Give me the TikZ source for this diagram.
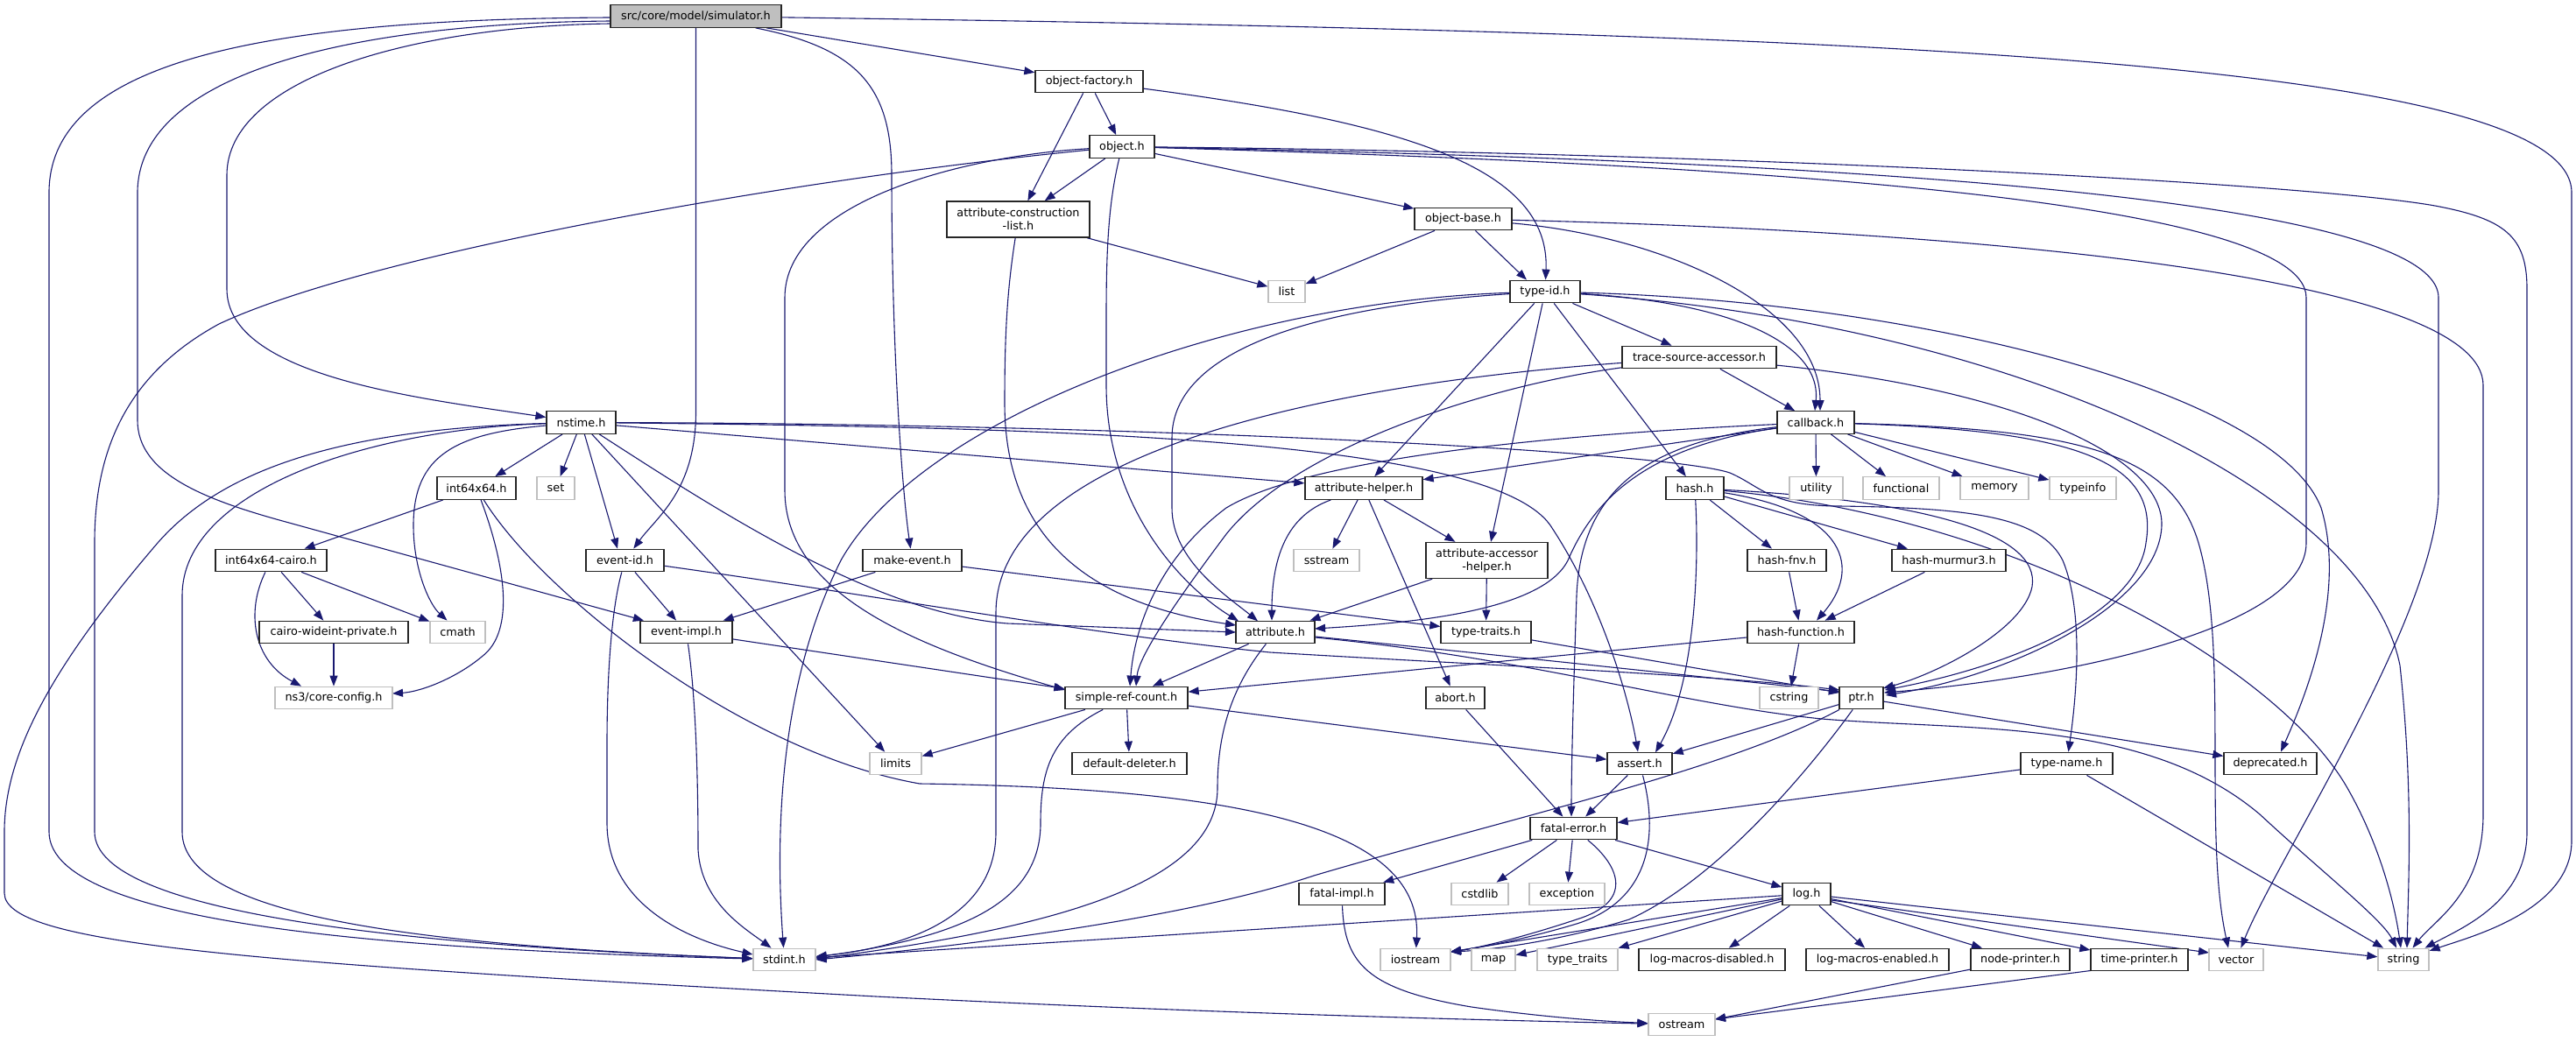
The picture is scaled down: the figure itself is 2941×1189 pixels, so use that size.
\documentclass[tikz,border=0pt]{standalone}
\usepackage{fontspec}
\setmainfont{DejaVu Sans}
\usetikzlibrary{arrows.meta}
\pgfdeclarelayer{bg}
\pgfsetlayers{bg,main}
\definecolor{mblue}{HTML}{191970}
\definecolor{gsf}{HTML}{BFBFBF}
\newcommand{\nodefnt}{\fontsize{12.8}{15}\selectfont}
\tikzset{
  nd/.style={draw=black!85, line width=1.3pt, fill=white, minimum height=25.5pt, inner sep=0pt, font=\nodefnt, text=black},
  ext/.style={nd, draw=gsf},
  rootnd/.style={nd, fill=gsf},
  edg/.style={draw=mblue, line width=1.1pt, -{Triangle[length=12pt,width=9pt]}}
}
\begin{document}
\begin{tikzpicture}[x=1pt,y=-1pt]
\useasboundingbox (0,0) rectangle (2941,1189);
% nodes
\node[rootnd, minimum width=195pt] (sim) at (794.5,18.5) {src/core/model/simulator.h};
\node[nd, minimum width=123pt] (objfac) at (1243.5,93) {object-factory.h};
\node[nd, minimum width=74pt] (object) at (1281,167.5) {object.h};
\node[nd, minimum width=163pt, minimum height=41pt, align=center] (attrcl) at (1162.5,250.5) {attribute-construction\\-list.h};
\node[nd, minimum width=111pt] (objbase) at (1670.5,250) {object-base.h};
\node[ext, minimum width=42pt] (list) at (1469,333) {list};
\node[nd, minimum width=80pt] (typeid) at (1764,333) {type-id.h};
\node[nd, minimum width=176pt] (tsa) at (1940,408) {trace-source-accessor.h};
\node[nd, minimum width=79pt] (nstime) at (663.5,482.5) {nstime.h};
\node[nd, minimum width=88pt] (callback) at (2073,482.5) {callback.h};
\node[nd, minimum width=90pt] (int64) at (544,557.5) {int64x64.h};
\node[ext, minimum width=43pt] (set) at (634.5,557.5) {set};
\node[nd, minimum width=134pt] (attrhelper) at (1557,557.5) {attribute-helper.h};
\node[nd, minimum width=66pt] (hash) at (1935,557.5) {hash.h};
\node[ext, minimum width=61pt] (utility) at (2073.5,557.5) {utility};
\node[ext, minimum width=87pt] (functional) at (2170.5,557.5) {functional};
\node[ext, minimum width=78pt] (memory) at (2277,557.5) {memory};
\node[ext, minimum width=76pt] (typeinfo) at (2378,557.5) {typeinfo};
\node[nd, minimum width=127pt] (cairo64) at (309.5,640) {int64x64-cairo.h};
\node[nd, minimum width=89pt] (eventid) at (713.5,640) {event-id.h};
\node[nd, minimum width=113pt] (makeevent) at (1041.5,640) {make-event.h};
\node[ext, minimum width=75pt] (sstream) at (1514.5,640) {sstream};
\node[nd, minimum width=139pt, minimum height=41pt, align=center] (aah) at (1697.5,640) {attribute-accessor\\-helper.h};
\node[nd, minimum width=90pt] (hashfnv) at (2040,640) {hash-fnv.h};
\node[nd, minimum width=130pt] (murmur) at (2225,640) {hash-murmur3.h};
\node[nd, minimum width=170pt] (cairowide) at (381,722) {cairo-wideint-private.h};
\node[ext, minimum width=63pt] (cmath) at (522.5,722) {cmath};
\node[nd, minimum width=105pt] (eventimpl) at (783.5,722) {event-impl.h};
\node[nd, minimum width=90pt] (attribute) at (1456,722) {attribute.h};
\node[nd, minimum width=103pt] (typetraits) at (1696.5,722) {type-traits.h};
\node[nd, minimum width=122pt] (hashfunc) at (2056,722) {hash-function.h};
\node[ext, minimum width=134pt] (coreconfig) at (381,797) {ns3/core-config.h};
\node[nd, minimum width=140pt] (src) at (1286,797) {simple-ref-count.h};
\node[nd, minimum width=67pt] (abort) at (1661.5,797) {abort.h};
\node[ext, minimum width=67pt] (cstring) at (2042.5,797) {cstring};
\node[nd, minimum width=50pt] (ptr) at (2125,797) {ptr.h};
\node[ext, minimum width=59pt] (limits) at (1022.5,872) {limits};
\node[nd, minimum width=131pt] (deleter) at (1289.5,872) {default-deleter.h};
\node[nd, minimum width=74pt] (assert) at (1872,872) {assert.h};
\node[nd, minimum width=105pt] (typename) at (2359.5,872) {type-name.h};
\node[nd, minimum width=106pt] (deprecated) at (2592,872) {deprecated.h};
\node[nd, minimum width=99pt] (fatalerror) at (1796.5,946) {fatal-error.h};
\node[nd, minimum width=98pt] (fatalimpl) at (1532,1021) {fatal-impl.h};
\node[ext, minimum width=65pt] (cstdlib) at (1689.5,1021) {cstdlib};
\node[ext, minimum width=86pt] (exception) at (1789,1021) {exception};
\node[nd, minimum width=55pt] (log) at (2062.5,1021) {log.h};
\node[ext, minimum width=71pt] (stdint) at (895.5,1096) {stdint.h};
\node[ext, minimum width=80pt] (iostream) at (1616,1096) {iostream};
\node[ext, minimum width=50pt] (map) at (1705,1096) {map};
\node[ext, minimum width=92pt] (ttraits) at (1801,1096) {type\_traits};
\node[nd, minimum width=167pt] (lmd) at (1954.5,1096) {log-macros-disabled.h};
\node[nd, minimum width=163pt] (lme) at (2143.5,1096) {log-macros-enabled.h};
\node[nd, minimum width=113pt] (nodeprinter) at (2306.5,1096) {node-printer.h};
\node[nd, minimum width=111pt] (timeprinter) at (2442.5,1096) {time-printer.h};
\node[ext, minimum width=62pt] (vector) at (2553,1096) {vector};
\node[ext, minimum width=58pt] (string) at (2744,1096) {string};
\node[ext, minimum width=76pt] (ostream) at (1920,1170) {ostream};

\begin{pgfonlayer}{bg}
\fill[white] (0,0) rectangle (2941,1189);
% simulator.h
\draw[edg] (sim) -- (objfac);
\draw[edg] (sim) .. controls (980,55) and (1018,100) .. (1018,200) .. controls (1018,400) and (1030,560) .. (makeevent);
\draw[edg] (sim) -- (794.5,470) .. controls (794.5,560) and (750,590) .. (eventid);
\draw[edg] ([yshift=-8.5pt]sim.west) .. controls (470,30) and (259,90) .. (259,200) -- (259,330) .. controls (259,430) and (480,455) .. (nstime);
\draw[edg] ([yshift=-5.5pt]sim.west) .. controls (380,27) and (157,90) .. (157,220) -- (157,480) .. controls (157,540) and (230,570) .. (330,597) -- (eventimpl);
\draw[edg] ([yshift=-1.5pt]sim.west) .. controls (300,22) and (56,70) .. (56,220) -- (56,950) .. controls (56,1060) and (480,1085) .. (stdint);
\draw[edg] (sim) .. controls (2200,38) and (2936,75) .. (2936,220) -- (2936,960) .. controls (2936,1040) and (2820,1070) .. (string);
% object-factory.h
\draw[edg] (objfac) -- (object);
\draw[edg] (objfac) -- (attrcl);
\draw[edg] (objfac) .. controls (1600,140) and (1770,190) .. (typeid);
% object.h
\draw[edg] (object) -- (attrcl);
\draw[edg] (object) -- (objbase);
\draw[edg] (object) .. controls (1266,230) and (1263,280) .. (1263,360) -- (1263,440) .. controls (1263,580) and (1350,670) .. ([shift={(-42,-12.75)}]attribute.center);
\draw[edg] (object) .. controls (1100,178) and (896,230) .. (896,340) -- (896,560) .. controls (896,680) and (1050,740) .. ([shift={(-70,-9)}]src.center);
\draw[edg] (object) .. controls (900,205) and (420,290) .. (250,370) .. controls (140,430) and (108,520) .. (108,620) -- (108,950) .. controls (108,1045) and (480,1080) .. (stdint);
\draw[edg] (object) .. controls (1900,185) and (2633,220) .. (2633,340) -- (2633,620) .. controls (2633,720) and (2350,775) .. ([shift={(26,-6)}]ptr.center);
\draw[edg] (object) .. controls (1900,180) and (2784,210) .. (2784,340) -- (2784,560) .. controls (2784,700) and (2600,980) .. (vector);
\draw[edg] (object) .. controls (2000,175) and (2640,210) .. (2780,235) .. controls (2860,250) and (2885,270) .. (2885,330) -- (2885,950) .. controls (2885,1030) and (2810,1060) .. (string);
% attribute-construction-list.h
\draw[edg] (attrcl) -- (list);
\draw[edg] (attrcl) .. controls (1150,330) and (1147,380) .. (1147,460) .. controls (1147,620) and (1250,690) .. ([shift={(-45,-8)}]attribute.center);
% object-base.h
\draw[edg] (objbase) -- (list);
\draw[edg] (objbase) -- ([xshift=-21pt]typeid.north);
\draw[edg] (objbase) .. controls (1900,270) and (2078,350) .. ([xshift=5pt]callback.north);
\draw[edg] (objbase) .. controls (2300,265) and (2835,320) .. (2835,440) -- (2835,930) .. controls (2835,1020) and (2780,1050) .. (string);
% type-id.h
\draw[edg] (typeid) -- (tsa);
\draw[edg] (typeid) .. controls (1970,345) and (2080,390) .. ([xshift=-1pt]callback.north);
\draw[edg] (typeid) -- (attrhelper);
\draw[edg] (typeid) -- (aah);
\draw[edg] (typeid) .. controls (1500,350) and (1338,400) .. (1338,500) -- (1338,580) .. controls (1338,640) and (1400,680) .. ([shift={(-20,-12.75)}]attribute.center);
\draw[edg] (typeid) -- (hash);
\draw[edg] (typeid) .. controls (2200,345) and (2600,450) .. (2650,580) .. controls (2680,680) and (2630,800) .. ([xshift=12pt]deprecated.north);
\draw[edg] (typeid) .. controls (2300,370) and (2700,560) .. (2740,760) .. controls (2755,900) and (2750,1000) .. ([xshift=4pt]string.north);
\draw[edg] (typeid) .. controls (1400,345) and (1050,480) .. (960,640) .. controls (890,780) and (885,950) .. (stdint);
% trace-source-accessor.h
\draw[edg] (tsa) -- (callback);
\draw[edg] (tsa) .. controls (2300,445) and (2470,520) .. (2468,600) .. controls (2465,690) and (2300,770) .. ([shift={(28,-3)}]ptr.center);
\draw[edg] (tsa) .. controls (1700,440) and (1480,510) .. (1400,610) .. controls (1340,690) and (1300,750) .. ([xshift=11pt]src.north);
\draw[edg] (tsa) .. controls (1500,440) and (1137,520) .. (1137,700) -- (1137,950) .. controls (1137,1040) and (1050,1080) .. (stdint);
% nstime.h
\draw[edg] (nstime) -- (int64);
\draw[edg] (nstime) -- (set);
\draw[edg] (nstime) -- ([xshift=-8.5pt]eventid.north);
\draw[edg] (nstime) -- (limits);
\draw[edg] (nstime) .. controls (830,590) and (1000,700) .. (1150,712) -- ([shift={(-45,0)}]attribute.center);
\draw[edg] (nstime) -- (attrhelper);
\draw[edg] (nstime) .. controls (1200,488) and (1700,500) .. (1770,600) .. controls (1830,690) and (1860,800) .. ([xshift=-2pt]assert.north);
\draw[edg] (nstime) .. controls (1300,484) and (1900,515) .. (1975,540) .. controls (2010,555) and (2020,578) .. (2100,578) .. controls (2250,580) and (2330,590) .. (2355,640) .. controls (2380,700) and (2370,800) .. (typename);
\draw[edg] (nstime) .. controls (520,495) and (472,520) .. (472,600) .. controls (472,650) and (490,690) .. ([xshift=-12pt]cmath.north);
\draw[edg] (nstime) .. controls (420,490) and (208,560) .. (208,680) -- (208,950) .. controls (208,1050) and (500,1080) .. (stdint);
\draw[edg] (nstime) .. controls (380,490) and (250,540) .. (180,620) .. controls (60,760) and (5,860) .. (5,950) -- (5,1020) .. controls (5,1080) and (300,1100) .. (1000,1138) .. controls (1400,1158) and (1700,1165) .. (ostream);
% callback.h
\draw[edg] (callback) -- (utility);
\draw[edg] (callback) -- (functional);
\draw[edg] (callback) -- (memory);
\draw[edg] (callback) -- (typeinfo);
\draw[edg] (callback) -- (attrhelper);
\draw[edg] (callback) .. controls (1880,510) and (1820,570) .. (1790,640) .. controls (1760,700) and (1600,712) .. ([shift={(45,-4)}]attribute.center);
\draw[edg] (callback) .. controls (1800,495) and (1500,520) .. (1400,580) .. controls (1320,640) and (1295,720) .. ([xshift=4pt]src.north);
\draw[edg] (callback) .. controls (1880,505) and (1805,560) .. (1800,680) .. controls (1796,800) and (1794,880) .. ([xshift=-2.5pt]fatalerror.north);
\draw[edg] (callback) .. controls (2380,492) and (2465,530) .. (2450,620) .. controls (2440,700) and (2300,760) .. ([shift={(27,-9)}]ptr.center);
\draw[edg] (callback) .. controls (2380,490) and (2480,520) .. (2510,620) .. controls (2545,740) and (2515,950) .. ([xshift=-9pt]vector.north);
% int64x64.h
\draw[edg] (int64) -- (cairo64);
\draw[edg] (int64) .. controls (575,640) and (590,720) .. (550,750) .. controls (520,775) and (480,790) .. ([shift={(67,-5)}]coreconfig.center);
\draw[edg] (int64) .. controls (620,680) and (850,860) .. (1050,895) .. controls (1400,900) and (1625,940) .. (iostream);
% int64x64-cairo.h
\draw[edg] (cairo64) -- (cairowide);
\draw[edg] (cairo64) -- (cmath);
\draw[edg] (cairo64) .. controls (280,700) and (290,755) .. ([xshift=-37pt]coreconfig.north);
\draw[edg] (cairowide) -- (coreconfig);
% event-id.h
\draw[edg] (eventid) -- (eventimpl);
\draw[edg] (eventid) .. controls (1000,680) and (1250,725) .. (1450,745) .. controls (1700,760) and (1950,770) .. ([shift={(-25,-9)}]ptr.center);
\draw[edg] (eventid) .. controls (697,700) and (693,780) .. (693,850) -- (693,940) .. controls (693,1030) and (780,1072) .. ([shift={(-36,-6)}]stdint.center);
% make-event.h
\draw[edg] (makeevent) -- (eventimpl);
\draw[edg] (makeevent) -- (typetraits);
% event-impl.h
\draw[edg] (eventimpl) -- (src);
\draw[edg] (eventimpl) .. controls (795,800) and (797,900) .. (797,970) .. controls (800,1030) and (850,1060) .. ([xshift=-15pt]stdint.north);
% attribute-helper.h
\draw[edg] (attrhelper) -- (sstream);
\draw[edg] (attrhelper) -- (aah);
\draw[edg] (attrhelper) .. controls (1480,585) and (1452,620) .. ([xshift=-4pt]attribute.north);
\draw[edg] (attrhelper) -- (abort);
% attribute-accessor-helper.h
\draw[edg] (aah) -- (attribute);
\draw[edg] (aah) -- (typetraits);
% attribute.h
\draw[edg] (attribute) -- ([xshift=30pt]src.north);
\draw[edg] ([yshift=-5pt]attribute.east) .. controls (1650,742) and (1900,768) .. ([shift={(-25,-7)}]ptr.center);
\draw[edg] ([yshift=-6pt]attribute.east) .. controls (1750,752) and (1920,805) .. (2080,821) .. controls (2250,835) and (2450,820) .. (2580,930) .. controls (2650,995) and (2720,1050) .. ([xshift=-8pt]string.north);
\draw[edg] (attribute) .. controls (1410,780) and (1390,830) .. (1390,900) .. controls (1390,1010) and (1200,1060) .. ([shift={(36,-1)}]stdint.center);
% type-traits.h
\draw[edg] (typetraits) -- ([shift={(-25,-6)}]ptr.center);
% hash.h
\draw[edg] (hash) -- (hashfnv);
\draw[edg] (hash) -- (murmur);
\draw[edg] (hash) .. controls (2110,585) and (2125,650) .. ([xshift=18pt]hashfunc.north);
\draw[edg] (hash) .. controls (2200,572) and (2330,610) .. (2320,670) .. controls (2310,720) and (2210,770) .. ([shift={(25,-11)}]ptr.center);
\draw[edg] (hash) .. controls (1940,650) and (1935,780) .. ([shift={(18,-12.75)}]assert.center);
\draw[edg] (hash) .. controls (2300,590) and (2600,760) .. (2680,900) .. controls (2720,970) and (2735,1040) .. ([xshift=-3pt]string.north);
\draw[edg] (hashfnv) -- (hashfunc);
\draw[edg] (murmur) -- (hashfunc);
% hash-function.h
\draw[edg] (hashfunc) -- (src);
\draw[edg] (hashfunc) -- (cstring);
% simple-ref-count.h
\draw[edg] (src) -- (limits);
\draw[edg] (src) -- (deleter);
\draw[edg] (src) -- (assert);
\draw[edg] (src) .. controls (1200,840) and (1188,880) .. (1188,940) .. controls (1188,1030) and (1100,1070) .. ([shift={(36,-3)}]stdint.center);
% abort.h
\draw[edg] (abort) -- (fatalerror);
% ptr.h
\draw[edg] (ptr) -- (assert);
\draw[edg] (ptr) -- (deprecated);
\draw[edg] (ptr) .. controls (1970,880) and (1720,935) .. (1500,1000) .. controls (1350,1050) and (1100,1080) .. ([shift={(36,0)}]stdint.center);
\draw[edg] (ptr) .. controls (2050,900) and (1950,1010) .. (1860,1050) .. controls (1780,1075) and (1700,1085) .. ([shift={(40,-9)}]iostream.center);
% assert.h
\draw[edg] (assert) -- (fatalerror);
\draw[edg] (assert) .. controls (1895,960) and (1880,1030) .. (1800,1055) .. controls (1740,1073) and (1690,1082) .. ([shift={(40,-9)}]iostream.center);
% type-name.h
\draw[edg] (typename) -- (fatalerror);
\draw[edg] (typename) -- (string);
% fatal-error.h
\draw[edg] (fatalerror) -- (fatalimpl);
\draw[edg] (fatalerror) -- (cstdlib);
\draw[edg] (fatalerror) -- (exception);
\draw[edg] (fatalerror) .. controls (1850,990) and (1865,1030) .. (1800,1050) .. controls (1740,1070) and (1690,1082) .. ([shift={(40,-9)}]iostream.center);
\draw[edg] (fatalerror) -- (log);
% fatal-impl.h
\draw[edg] (fatalimpl) .. controls (1535,1100) and (1560,1130) .. (1680,1150) .. controls (1750,1160) and (1820,1166) .. (ostream);
% log.h
\draw[edg] (log) -- (stdint);
\draw[edg] (log) -- ([shift={(40,-9)}]iostream.center);
\draw[edg] (log) -- (map);
\draw[edg] (log) -- (ttraits);
\draw[edg] (log) -- (lmd);
\draw[edg] (log) -- (lme);
\draw[edg] (log) -- (nodeprinter);
\draw[edg] (log) -- (timeprinter);
\draw[edg] ([yshift=-7pt]log.east) -- ([shift={(-31,-8)}]vector.center);
\draw[edg] (log) -- (string);
% printers
\draw[edg] ([shift={(-56.5,11)}]nodeprinter.center) -- ([shift={(38,-6)}]ostream.center);
\draw[edg] ([shift={(-52,12)}]timeprinter.center) -- ([shift={(38,-6)}]ostream.center);
\end{pgfonlayer}
\end{tikzpicture}
\end{document}
